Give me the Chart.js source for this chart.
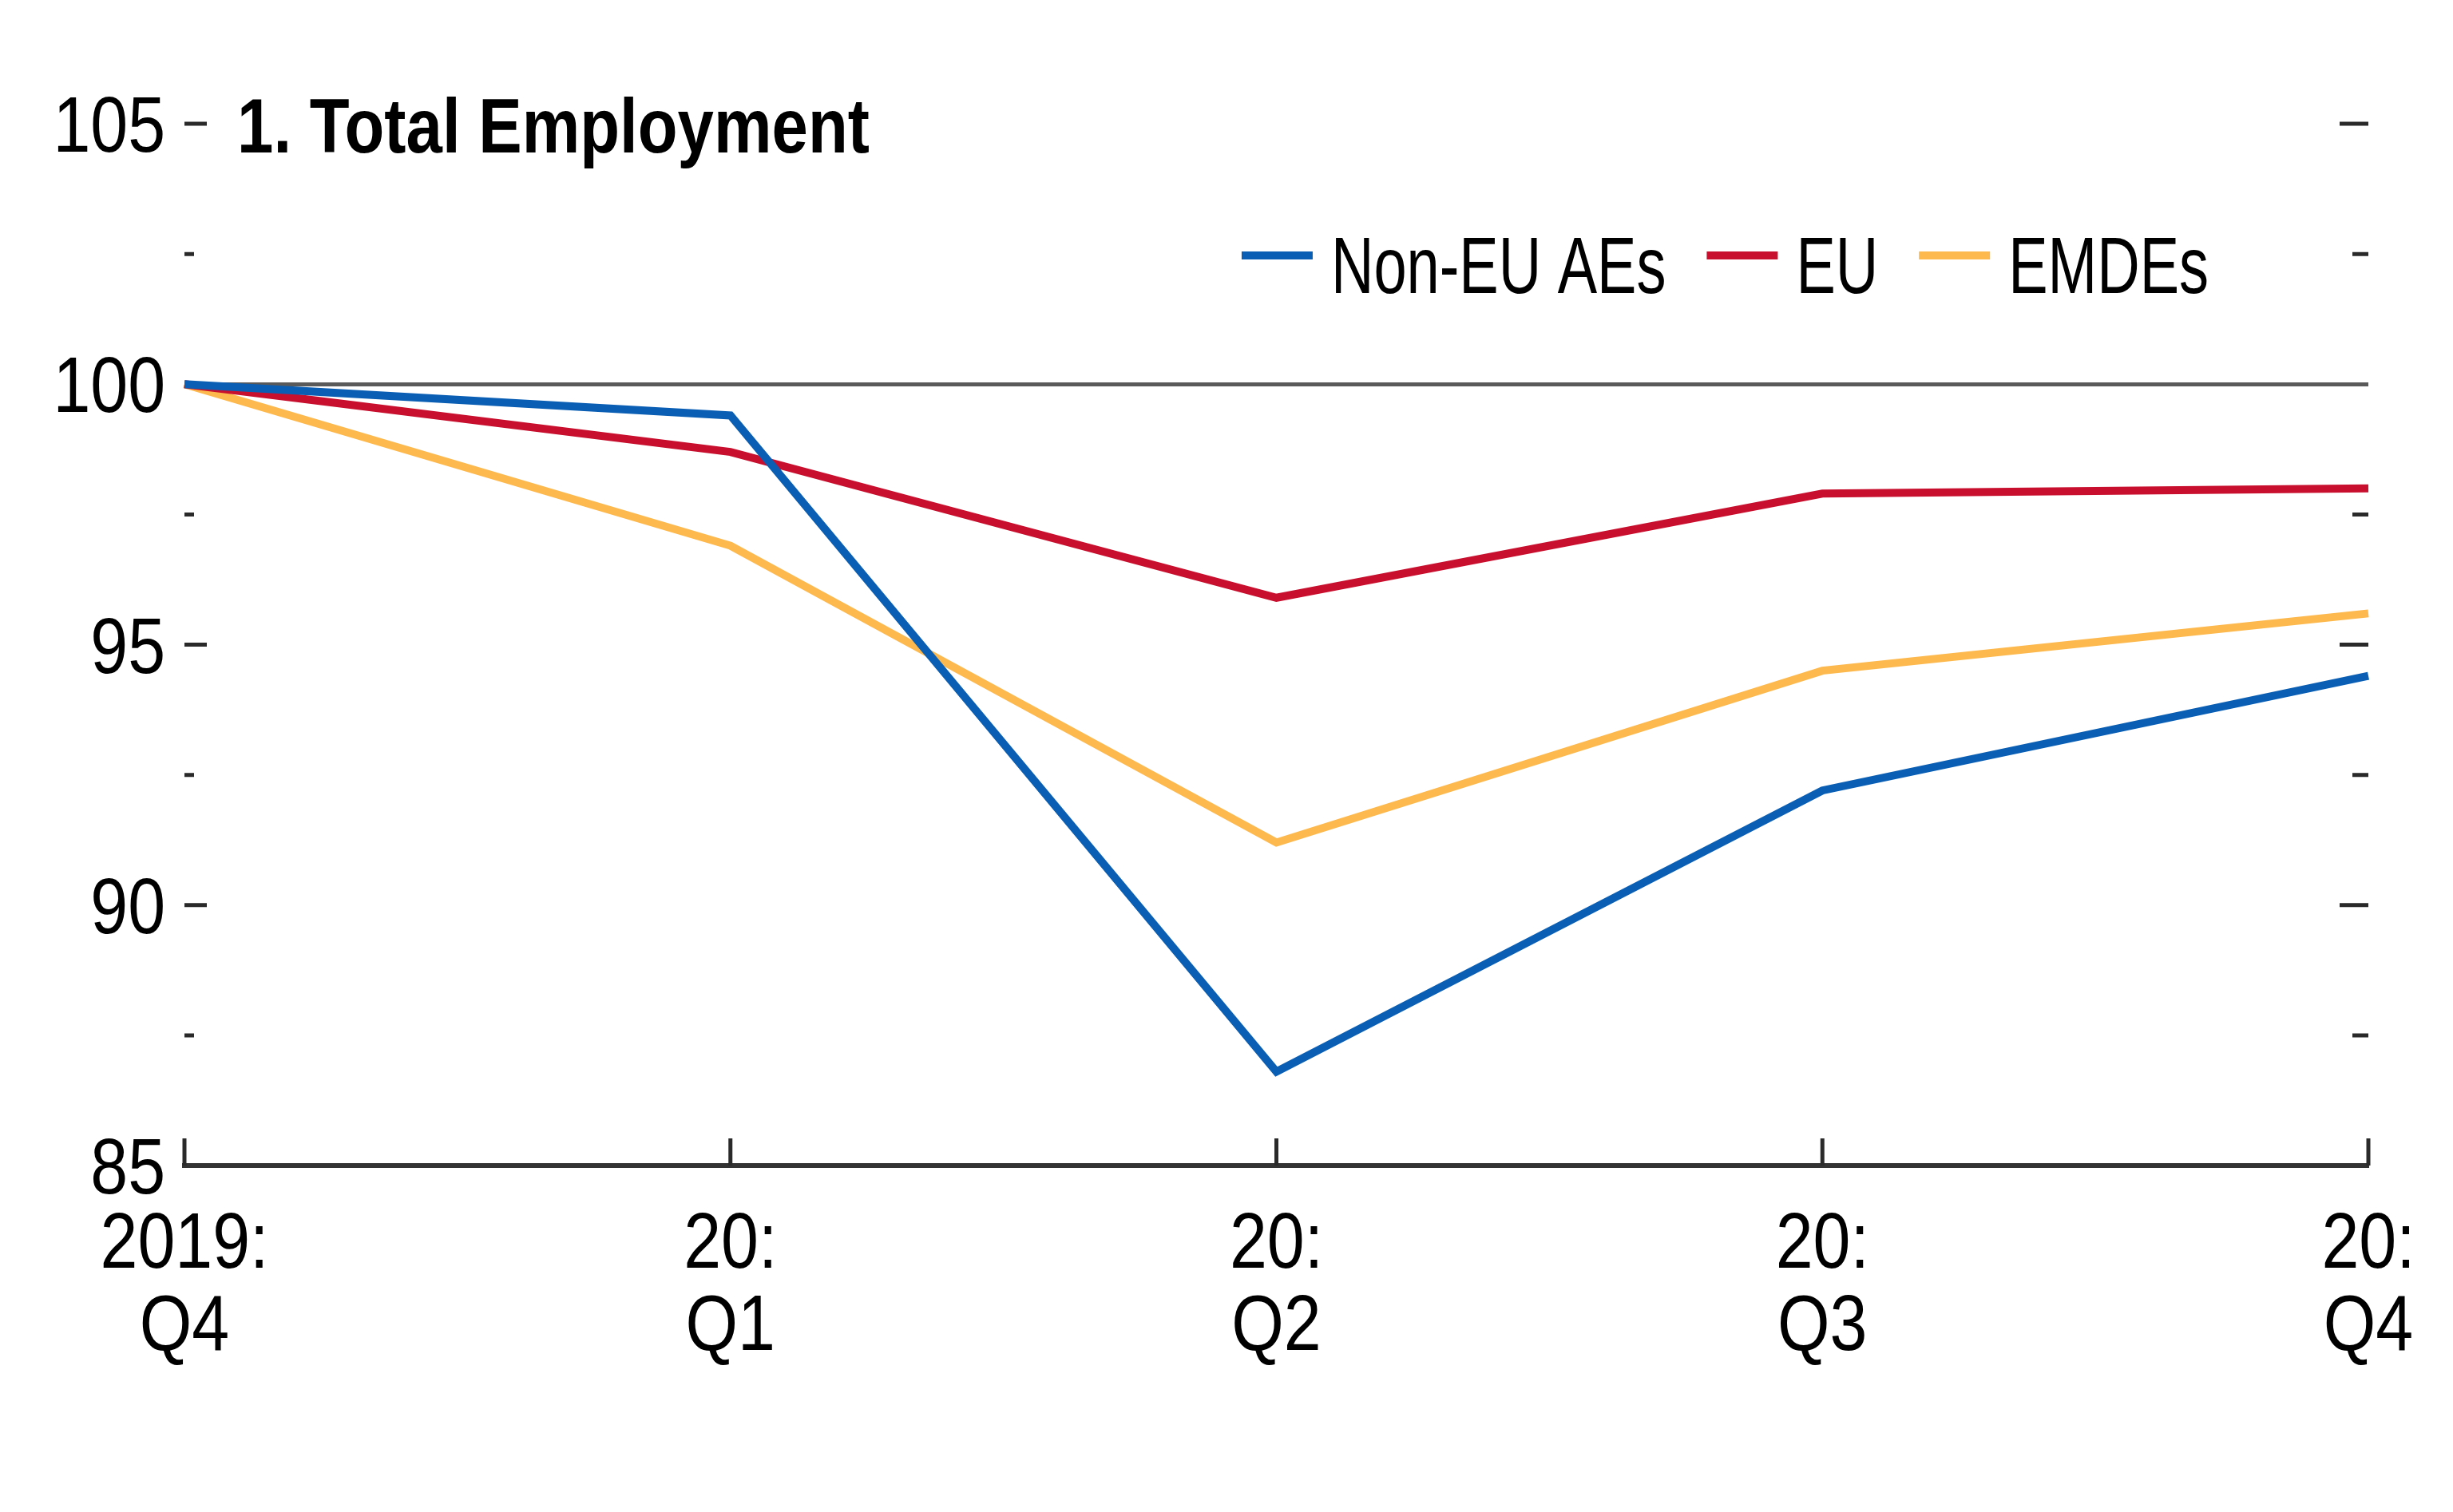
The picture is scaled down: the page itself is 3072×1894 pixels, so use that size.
<!DOCTYPE html>
<html>
<head>
<meta charset="utf-8">
<script src="https://cdn.jsdelivr.net/npm/chart.js@4.4.0/dist/chart.umd.min.js"></script>
<style>
html, body { margin: 0; padding: 0; background: #fff; }
#wrap { width: 3072px; height: 1894px; }
</style>
</head>
<body>
<div id="wrap"><canvas id="employmentChart" width="3072" height="1894"></canvas></div>
<script>
const quarters = [["2019:", "Q4"], ["20:", "Q1"], ["20:", "Q2"], ["20:", "Q3"], ["20:", "Q4"]];
const nonEuAEs = [100, 99.4, 86.8, 92.2, 94.4];
const eu = [100, 98.7, 95.9, 97.9, 98.0];
const emdes = [100, 96.9, 91.2, 94.5, 95.6];
const majorTicks = [85, 90, 95, 100, 105];
const minorTicks = [87.5, 92.5, 97.5, 102.5];
const chartTitle = "1. Total Employment";

const FONT = "'Liberation Sans', Arial, sans-serif";

// condensed text: the reference uses a narrow face, so squeeze horizontally
function narrowText(ctx, text, x, y, font, sx, align) {
    ctx.save();
    ctx.font = font;
    ctx.textAlign = align;
    ctx.textBaseline = "alphabetic";
    ctx.translate(x, y);
    ctx.scale(sx, 1);
    ctx.fillText(text, 0, 0);
    ctx.restore();
}

/* tick marks pointing into the plot, tick labels, title and legend */
const decorations = {
    id: "decorations",
    afterDatasetsDraw(chart) {
        const ctx = chart.ctx;
        const area = chart.chartArea;
        const y = chart.scales.y;
        const x = chart.scales.x;
        ctx.save();
        ctx.strokeStyle = "#2a2a2a";
        ctx.lineWidth = 5;
        ctx.beginPath();
        majorTicks.concat(minorTicks).forEach(function (v) {
            if (v === 85 || v === 100) return;
            const py = y.getPixelForValue(v);
            const major = majorTicks.includes(v);
            ctx.moveTo(area.left, py);
            ctx.lineTo(area.left + (major ? 28 : 12), py);
            ctx.moveTo(area.right, py);
            ctx.lineTo(area.right - (major ? 36 : 20), py);
        });
        quarters.forEach(function (q, i) {
            const px = x.getPixelForValue(i);
            ctx.moveTo(px, area.bottom);
            ctx.lineTo(px, area.bottom - 34);
        });
        ctx.stroke();

        ctx.fillStyle = "#000";

        // y tick labels
        majorTicks.forEach(function (v) {
            narrowText(ctx, String(v), 207, y.getPixelForValue(v) + 35, "98px " + FONT, 0.86, "right");
        });

        // x tick labels
        quarters.forEach(function (q, i) {
            const px = x.getPixelForValue(i);
            narrowText(ctx, q[0], px, 1588, "98px " + FONT, 0.86, "center");
            narrowText(ctx, q[1], px, 1691, "98px " + FONT, 0.86, "center");
        });

        // title
        narrowText(ctx, chartTitle, 297, y.getPixelForValue(105) + 36, "bold 96px " + FONT, 0.85, "left");

        // legend
        const lfont = "100px " + FONT;
        const sx = 0.74;
        ctx.font = lfont;
        const items = chart.data.datasets;
        let total = 0;
        items.forEach(function (d, i) {
            total += 89 + 23 + ctx.measureText(d.label).width * sx + (i < items.length - 1 ? 51 : 0);
        });
        let lx = 2766 - total;
        items.forEach(function (d) {
            ctx.strokeStyle = d.borderColor;
            ctx.lineWidth = 10;
            ctx.beginPath();
            ctx.moveTo(lx, 320);
            ctx.lineTo(lx + 89, 320);
            ctx.stroke();
            lx += 89 + 23;
            narrowText(ctx, d.label, lx, 367, lfont, sx, "left");
            ctx.font = lfont;
            lx += ctx.measureText(d.label).width * sx + 51;
        });
        ctx.restore();
    }
};

new Chart(document.getElementById("employmentChart"), {
    type: "line",
    data: {
        labels: quarters,
        datasets: [{
            label: "Non-EU AEs",
            data: nonEuAEs,
            borderColor: "#0a5fb4",
            borderWidth: 10,
            pointRadius: 0,
            tension: 0
        }, {
            label: "EU",
            data: eu,
            borderColor: "#c8102e",
            borderWidth: 10,
            pointRadius: 0,
            tension: 0
        }, {
            label: "EMDEs",
            data: emdes,
            borderColor: "#fdb94e",
            borderWidth: 10,
            pointRadius: 0,
            tension: 0
        }]
    },
    options: {
        responsive: false,
        animation: false,
        devicePixelRatio: 1,
        layout: { padding: { top: 155, right: 106, bottom: 0, left: 0 } },
        plugins: {
            legend: { display: false },
            tooltip: { enabled: false }
        },
        scales: {
            x: {
                offset: false,
                grid: { display: false, drawTicks: false },
                border: { display: true, color: "#333", width: 6 },
                ticks: { display: false },
                afterFit(scale) { scale.height = 434; }
            },
            y: {
                min: 85,
                max: 105,
                afterBuildTicks(scale) {
                    scale.ticks = majorTicks.map(function (v) { return { value: v }; });
                },
                grid: {
                    drawTicks: false,
                    color: function (c) { return c.tick && c.tick.value === 100 ? "#5a5a5a" : "rgba(0,0,0,0)"; },
                    lineWidth: 5
                },
                border: { display: false },
                ticks: { display: false },
                afterFit(scale) { scale.width = 231; }
            }
        }
    },
    plugins: [decorations]
});
</script>
</body>
</html>
